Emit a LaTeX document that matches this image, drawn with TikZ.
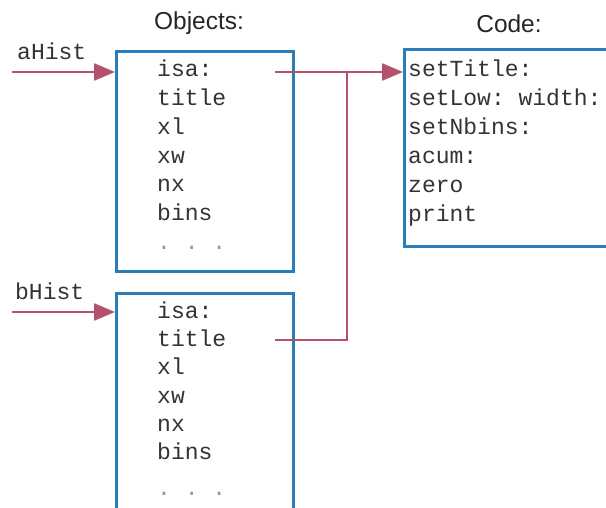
\documentclass[tikz,border=0pt]{standalone}
\usepackage{fontspec}
\setmainfont{Liberation Sans}
\setmonofont{Liberation Mono}
\usepackage{xcolor}
\usepackage{tikz}
\usetikzlibrary{arrows.meta}
\definecolor{boxblue}{HTML}{2B7DB9}
\definecolor{linkred}{HTML}{B5506E}

\begin{document}
\begin{tikzpicture}[x=1pt, y=-1pt,
  objbox/.style ={draw=boxblue, line width=2.6pt, anchor=north west,
                  inner sep=0pt},
  field/.style  ={anchor=base west, inner sep=0pt,
                  font=\fontsize{23}{23}\ttfamily, text=black!80},
  dots/.style   ={field, text=black!40},
  header/.style ={anchor=base, inner sep=0pt,
                  font=\fontsize{24.5}{24.5}\selectfont, text=black!85},
  arr/.style    ={linkred, line width=2.4pt,
                  -{Triangle[length=21pt,width=17pt]}},
  link/.style   ={linkred, line width=2.4pt}
]
  \useasboundingbox (0,0) rectangle (606,508);

  % headers
  \node[header] (hobj)  at (199,30) {Objects:};
  \node[header] (hcode) at (509,33) {Code:};

  % boxes
  \node[objbox, minimum width=177pt, minimum height=220pt] (aobj) at (115,50)  {};
  \node[objbox, minimum width=177pt, minimum height=240pt] (bobj) at (115,292) {};
  \node[objbox, minimum width=220pt, minimum height=197pt] (code) at (403,48)  {};

  % instance variables
  \foreach \txt [count=\i] in {isa:, title, xl, xw, nx, bins} {
    \node[field] (a\i) at (157, 48+28.8*\i) {\txt};
    \node[field] (b\i) at (157, 290+28.3*\i) {\txt};
  }
  \node[dots] (adots) at (157,250) {.\ .\ .};
  \node[dots] (bdots) at (157,495) {.\ .\ .};

  % methods
  \foreach \txt [count=\i] in {setTitle:, setLow: width:, setNbins:,
                               acum:, zero, print} {
    \node[field] (m\i) at (408, 48+29*\i) {\txt};
  }

  % variable names
  \node[field] (aname) at (17,60)  {aHist};
  \node[field] (bname) at (15,300) {bHist};

  \coordinate (ain)   at (12,72);
  \coordinate (bin)   at (12,312);
  \coordinate (aptr)  at (275,72);
  \coordinate (bptr)  at (275,340);
  \coordinate (join)  at (347,72);

  \draw[arr]  (ain) -- (ain -| aobj.west);
  \draw[arr]  (bin) -- (bin -| bobj.west);
  \draw[arr]  (aptr) -- (aptr -| code.west);
  \draw[link] (bptr) -| (join);
\end{tikzpicture}
\end{document}
